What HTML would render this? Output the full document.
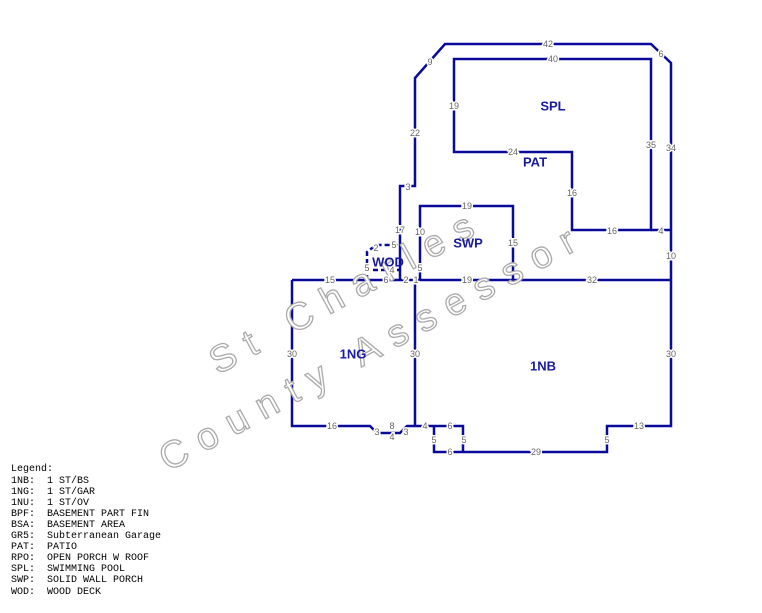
<!DOCTYPE html>
<html><head><meta charset="utf-8"><style>
html,body{margin:0;padding:0;background:#fff;width:762px;height:613px;overflow:hidden}
svg{display:block}
.l{fill:none;stroke:#0a0a9a;stroke-width:2.5;stroke-linejoin:miter}
.t{font-family:"Liberation Sans",sans-serif;font-size:9px;fill:#666;text-anchor:middle;dominant-baseline:central;paint-order:stroke;stroke:#fff;stroke-width:3px}
.n{font-family:"Liberation Sans",sans-serif;font-size:13px;font-weight:bold;fill:#1a1aa0;text-anchor:middle;dominant-baseline:central}
.w{font-family:"Liberation Sans",sans-serif;font-size:38px;fill:#fff;stroke:#aaa;stroke-width:1.3;letter-spacing:13px}
.g text{font-family:"Liberation Mono",monospace;font-size:10px;fill:#000;white-space:pre}
</style></head><body>
<svg width="762" height="613" viewBox="0 0 762 613">
<g class="l">
<path d="M400,280 L400,186 L415,186 L415,78 L445,44 L651,44 L671,63 L671,426 L607,426 L607,452 L434,452 L434,426"/>
<path d="M454,59 L651,59 L651,230 L572,230 L572,152 L454,152 Z"/>
<path d="M651,230 L671,230"/>
<path d="M420,280 L420,206 L513,206 L513,280"/>
<path d="M292,280 L671,280"/>
<path d="M292,280 L292,426 L370,426 L377,433 L400,433 L407,426 L463,426 L463,452"/>
<path d="M415,280 L415,426"/>
<path d="M367,280 L367,252 L376,245 L400,245" stroke-dasharray="5,3"/>
<path d="M373,270 L400,270" stroke-dasharray="5,3"/>
</g>
<text class="w" transform="translate(218,375) rotate(-28.5)">St Charles</text>
<text class="w" transform="translate(168,472) rotate(-28.5)">County Assessor</text>
<g>
<text class="t" x="548" y="44">42</text>
<text class="t" x="430" y="62">9</text>
<text class="t" x="661" y="54">6</text>
<text class="t" x="553" y="59">40</text>
<text class="t" x="454" y="106">19</text>
<text class="t" x="651" y="145">35</text>
<text class="t" x="671" y="148">34</text>
<text class="t" x="415" y="133">22</text>
<text class="t" x="408" y="187">3</text>
<text class="t" x="513" y="152">24</text>
<text class="t" x="572" y="193">16</text>
<text class="t" x="612" y="231">16</text>
<text class="t" x="661" y="231">4</text>
<text class="t" x="671" y="256">10</text>
<text class="t" x="400" y="230">17</text>
<text class="t" x="420" y="232">10</text>
<text class="t" x="467" y="206">19</text>
<text class="t" x="513" y="243">15</text>
<text class="t" x="420" y="268">5</text>
<text class="t" x="467" y="280">19</text>
<text class="t" x="592" y="280">32</text>
<text class="t" x="330" y="280">15</text>
<text class="t" x="406" y="280">2</text>
<text class="t" x="416" y="280">1</text>
<text class="t" x="386" y="280">6</text>
<text class="t" x="367" y="268">5</text>
<text class="t" x="376" y="248">2</text>
<text class="t" x="394" y="245">5</text>
<text class="t" x="392" y="270">4</text>
<text class="t" x="292" y="354">30</text>
<text class="t" x="415" y="354">30</text>
<text class="t" x="671" y="354">30</text>
<text class="t" x="332" y="426">16</text>
<text class="t" x="392" y="426">8</text>
<text class="t" x="377" y="432">3</text>
<text class="t" x="392" y="437">4</text>
<text class="t" x="406" y="432">3</text>
<text class="t" x="425" y="426">4</text>
<text class="t" x="450" y="426">6</text>
<text class="t" x="434" y="440">5</text>
<text class="t" x="464" y="440">5</text>
<text class="t" x="450" y="452">6</text>
<text class="t" x="536" y="452">29</text>
<text class="t" x="607" y="440">5</text>
<text class="t" x="639" y="426">13</text>
</g>
<text class="n" x="553" y="106">SPL</text>
<text class="n" x="535" y="162">PAT</text>
<text class="n" x="468" y="243">SWP</text>
<text class="n" x="388" y="262">WOD</text>
<text class="n" x="353" y="354">1NG</text>
<text class="n" x="543" y="366">1NB</text>
<g class="g">
<text x="11" y="471">Legend:</text>
<text x="11" y="483">1NB:&#160;&#160;1 ST/BS</text>
<text x="11" y="494">1NG:&#160;&#160;1 ST/GAR</text>
<text x="11" y="505">1NU:&#160;&#160;1 ST/OV</text>
<text x="11" y="516">BPF:&#160;&#160;BASEMENT PART FIN</text>
<text x="11" y="527">BSA:&#160;&#160;BASEMENT AREA</text>
<text x="11" y="538">GR5:&#160;&#160;Subterranean Garage</text>
<text x="11" y="549">PAT:&#160;&#160;PATIO</text>
<text x="11" y="560">RPO:&#160;&#160;OPEN PORCH W ROOF</text>
<text x="11" y="571">SPL:&#160;&#160;SWIMMING POOL</text>
<text x="11" y="582">SWP:&#160;&#160;SOLID WALL PORCH</text>
<text x="11" y="594">WOD:&#160;&#160;WOOD DECK</text>
</g>
</svg>
</body></html>
